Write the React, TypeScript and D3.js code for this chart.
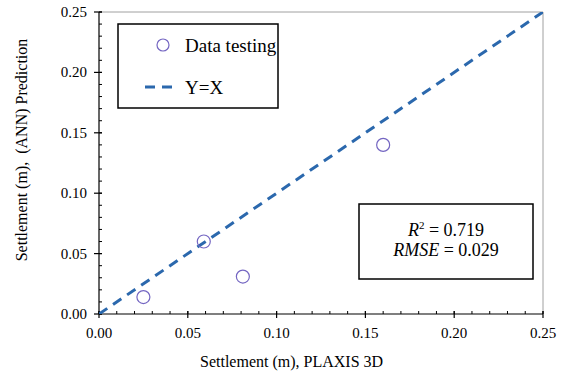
import React from "react";
import * as d3 from "d3";

const settlementPlaxis = [0.025, 0.059, 0.081, 0.16];
const settlementAnn = [0.014, 0.06, 0.031, 0.14];
const tickValues = [0, 0.05, 0.1, 0.15, 0.2, 0.25];
const minorTickValues = d3.range(0, 0.2501, 0.01);
const fitLine = [0, 0.25];
const statsLabels = ["0.719", "0.029"];

const W = 568;
const H = 377;
const FONT = "'Liberation Serif', 'Times New Roman', serif";

export default function App() {
  const x = d3.scaleLinear().domain([0, 0.25]).range([99, 543]);
  const y = d3.scaleLinear().domain([0, 0.25]).range([314, 12]);
  const fmt = d3.format(".2f");
  const linePath = d3
    .line<number>()
    .x((d) => x(d))
    .y((d) => y(d))(fitLine);
  const dataColor = "#7466c2";
  const lineColor = "#2b68ad";

  return (
    <svg
      width={W}
      height={H}
      style={{ position: "absolute", left: 0, top: 0, background: "#fff" }}
      fontFamily={FONT}
    >
      <defs>
        <clipPath id="plot-clip">
          <rect x={99} y={12} width={444} height={302} />
        </clipPath>
      </defs>

      {/* frame: light top/right, black axes */}
      <line x1={99} x2={543} y1={12} y2={12} stroke="#a0a0a0" strokeWidth={1} />
      <line x1={543} x2={543} y1={12} y2={314} stroke="#a0a0a0" strokeWidth={1} />
      <line x1={99} x2={543} y1={314} y2={314} stroke="#000" strokeWidth={1.2} />
      <line x1={99} x2={99} y1={12} y2={314} stroke="#000" strokeWidth={1.2} />

      {/* minor ticks */}
      {minorTickValues.map((v, i) => (
        <g key={"m" + i}>
          <line x1={x(v)} x2={x(v)} y1={314} y2={311} stroke="#000" strokeWidth={1} />
          <line x1={99} x2={102} y1={y(v)} y2={y(v)} stroke="#000" strokeWidth={1} />
        </g>
      ))}

      {/* major ticks and labels */}
      {tickValues.map((v, i) => (
        <g key={"t" + i}>
          <line x1={x(v)} x2={x(v)} y1={311} y2={318} stroke="#000" strokeWidth={1.2} />
          <line x1={94} x2={102} y1={y(v)} y2={y(v)} stroke="#000" strokeWidth={1.2} />
          <text x={x(v)} y={338} textAnchor="middle" fontSize={15} fill="#000">
            {fmt(v)}
          </text>
          <text x={87} y={y(v) + 5} textAnchor="end" fontSize={15} fill="#000">
            {fmt(v)}
          </text>
        </g>
      ))}

      {/* axis titles */}
      <text x={200} y={367} fontSize={16} fill="#000">
        Settlement (m), PLAXIS 3D
      </text>
      <text
        transform="translate(27,150) rotate(-90)"
        textAnchor="middle"
        fontSize={16}
        fill="#000"
        style={{ whiteSpace: "pre" }}
      >
        {"Settlement (m),  (ANN) Prediction"}
      </text>

      {/* Y = X line */}
      <path
        d={linePath ?? ""}
        clipPath="url(#plot-clip)"
        fill="none"
        stroke={lineColor}
        strokeWidth={3}
        strokeDasharray="10 7"
      />

      {/* data points */}
      {settlementPlaxis.map((v, i) => (
        <circle
          key={"p" + i}
          cx={x(v)}
          cy={y(settlementAnn[i])}
          r={6.5}
          fill="none"
          stroke={dataColor}
          strokeWidth={1.2}
        />
      ))}

      {/* legend */}
      <rect x={118} y={24} width={160} height={84} fill="#fff" stroke="#000" strokeWidth={1.5} />
      <circle cx={163} cy={45} r={6} fill="none" stroke={dataColor} strokeWidth={1.2} />
      <text x={185} y={52} fontSize={19} fill="#000">
        Data testing
      </text>
      <line
        x1={145}
        x2={173}
        y1={87}
        y2={87}
        stroke={lineColor}
        strokeWidth={3}
        strokeDasharray="10 7"
      />
      <text x={185} y={94} fontSize={19} fill="#000">
        Y=X
      </text>

      {/* statistics box */}
      <rect x={359} y={204} width={174} height={75} fill="#fff" stroke="#000" strokeWidth={1.5} />
      <text x={446} y={236} textAnchor="middle" fontSize={18} fill="#000">
        <tspan fontStyle="italic">R</tspan>
        <tspan fontSize={11} dy={-7}>2</tspan>
        <tspan dy={7}>{" = " + statsLabels[0]}</tspan>
      </text>
      <text x={446} y={256} textAnchor="middle" fontSize={18} fill="#000">
        <tspan fontStyle="italic">RMSE</tspan>
        <tspan>{" = " + statsLabels[1]}</tspan>
      </text>
    </svg>
  );
}
